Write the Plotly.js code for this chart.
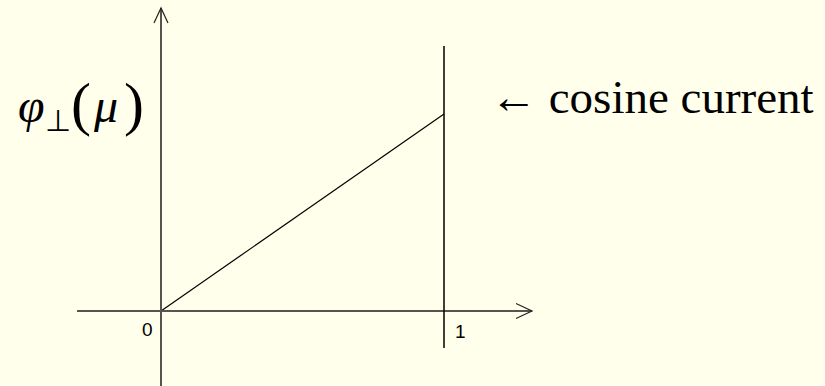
<!DOCTYPE html>
<html><head><meta charset="utf-8">
<script src="https://cdn.plot.ly/plotly-3.0.1.min.js"></script>
<style>
html,body{margin:0;padding:0;background:#FFFFEB;}
#chart g.annotation text, #chart g.annotation tspan { font-family: "Liberation Serif", "Times New Roman", serif !important; }
#chart g.annotation[data-index="0"] text, #chart g.annotation[data-index="1"] text,
#chart g.annotation[data-index="0"] tspan, #chart g.annotation[data-index="1"] tspan { font-family: "Liberation Sans", Arial, sans-serif !important; }
</style>
</head><body>
<div id="chart" style="width:825px;height:386px;"></div>
<script>
const mu = [0, 1];
const phiPerp = [0, 0.7];
const tickVals = [0, 1];
const tickLabels = ["0", "1"];
const curveLabel = "\u2190 cosine current";
const yLabelParts = ["<i>\u03C6</i>", "\u22A5", "(", "<i>\u03BC</i>", ")"];

const axisCol = "#555550";
const trace = {
  x: mu, y: phiPerp, type: "scatter", mode: "lines",
  line: {color: "black", width: 1.2}, hoverinfo: "skip", showlegend: false
};
const xr = [-0.5689, 2.3463], yr = [-0.2665, 1.1051];
const shapes = [
  {type:"line", xref:"x", yref:"y", x0:-0.2968, x1:1.311, y0:0, y1:0, line:{color:axisCol, width:2}},
  {type:"path", xref:"x", yref:"y", path:"M 1.2544 0.0267 L 1.311 0 L 1.2544 -0.0267", line:{color:"#222222", width:1.2}},
  {type:"line", xref:"x", yref:"y", x0:0, x1:0, y0:-0.3, y1:1.0766, line:{color:axisCol, width:2}},
  {type:"path", xref:"x", yref:"y", path:"M -0.0247 1.0233 L 0 1.0766 L 0.0247 1.0233", line:{color:"#222222", width:1.2}},
  {type:"line", xref:"x", yref:"y", x0:mu[1], x1:mu[1], y0:-0.1315, y1:0.9416, line:{color:"black", width:1.5}}
];
function pa(px, py, text, size, family, anchor) {
  return {x:px/825, y:1-py/386, xref:"paper", yref:"paper", text:text, showarrow:false,
          xanchor:anchor||"left", yanchor:"middle", font:{family:family, size:size, color:"#000000"}};
}
const annotations = [
  {x:tickVals[0], y:0, xref:"x", yref:"y", text:tickLabels[0], showarrow:false, xanchor:"right", yanchor:"middle", xshift:-6, yshift:-18, font:{family:"Liberation Sans", size:19, color:"#000000"}},
  {x:tickVals[1], y:0, xref:"x", yref:"y", text:tickLabels[1], showarrow:false, xanchor:"left", yanchor:"middle", xshift:9, yshift:-20, font:{family:"Liberation Sans", size:19, color:"#000000"}},
  pa(488, 97, curveLabel, 47, "Liberation Serif"),
  pa(16, 106, yLabelParts[0], 48, "Liberation Serif"),
  pa(43, 120, yLabelParts[1], 30, "Liberation Serif"),
  pa(69, 104, yLabelParts[2], 60, "Liberation Serif"),
  pa(91, 106, yLabelParts[3], 48, "Liberation Serif"),
  pa(122, 104, yLabelParts[4], 60, "Liberation Serif")
];
const layout = {
  width: 825, height: 386,
  margin: {l:0, r:0, t:0, b:0},
  paper_bgcolor: "#FFFFEB", plot_bgcolor: "#FFFFEB",
  xaxis: {range: xr, visible: false},
  yaxis: {range: yr, visible: false},
  shapes: shapes, annotations: annotations, showlegend: false
};
Plotly.newPlot("chart", [trace], layout, {staticPlot: true});
</script>
</body></html>
